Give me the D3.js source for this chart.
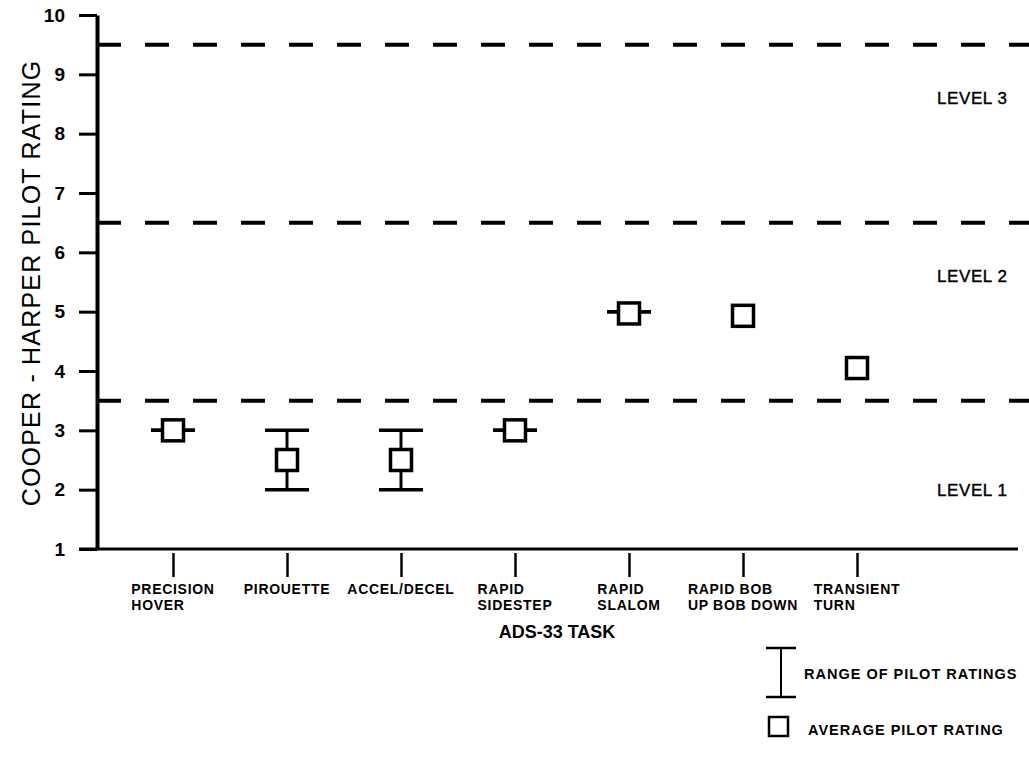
<!DOCTYPE html>
<html>
<head>
<meta charset="utf-8">
<script src="https://cdn.jsdelivr.net/npm/d3@7"></script>
<style>
	body { margin: 0; background: #fff; }
	text { font-family: "Liberation Sans", Arial, Helvetica, sans-serif; fill: #000; }
</style>
</head>
<body>
<div id="chart-area"></div>
<script>

/*****************************************/
/*   DATA                                */
/*****************************************/

let tasks = ["PRECISION HOVER", "PIROUETTE", "ACCEL/DECEL", "RAPID SIDESTEP", "RAPID SLALOM", "RAPID BOB UP BOB DOWN", "TRANSIENT TURN"];
let taskLines = [["PRECISION", "HOVER"], ["PIROUETTE"], ["ACCEL/DECEL"], ["RAPID", "SIDESTEP"], ["RAPID", "SLALOM"], ["RAPID BOB", "UP BOB DOWN"], ["TRANSIENT", "TURN"]];

// average rating and range (null = no range drawn)
let avgRating = [3.0, 2.5, 2.5, 3.0, 4.97, 4.93, 4.05];
let minRating = [3, 2, 2, 3, 5, null, null];
let maxRating = [3, 3, 3, 3, 5, null, null];

let yTicks = [1, 2, 3, 4, 5, 6, 7, 8, 9, 10];

// handling qualities level boundaries
let levelBounds = [3.5, 6.5, 9.5];
let levelNames = ["LEVEL 1", "LEVEL 2", "LEVEL 3"];
let levelLabelAt = [2.0, 5.6, 8.6];


// CHART AREA

let margin = {top: 15, right: 0, bottom: 216, left: 97},
	width = 1029 - margin.left - margin.right,
	height = 765 - margin.top - margin.bottom;

let root = d3.select("#chart-area").append("svg")
	.attr("width", 1029)
	.attr("height", 765);

root.append("rect")
	.attr("width", 1029)
	.attr("height", 765)
	.attr("fill", "#fff");

let svg = root.append("g")
	.attr("transform", "translate(" + margin.left + "," + margin.top + ")");


// SCALES

let xScale = d3.scalePoint()
	.domain(tasks)
	.range([76, 760]);

let yScale = d3.scaleLinear()
	.domain([1, 10])
	.range([height, 0]);


// LEVEL LINES

svg.selectAll(".level-line")
	.data(levelBounds)
	.enter()
	.append("line")
	.attr("class", "level-line")
	.attr("x1", 0)
	.attr("x2", width)
	.attr("y1", d => yScale(d))
	.attr("y2", d => yScale(d))
	.attr("stroke", "#000")
	.attr("stroke-width", 4)
	.attr("stroke-dasharray", "24,24");

svg.selectAll(".level-label")
	.data(levelNames)
	.enter()
	.append("text")
	.attr("class", "level-label")
	.attr("x", 840)
	.attr("y", (d, i) => yScale(levelLabelAt[i]))
	.attr("dy", "0.35em")
	.style("font-size", "17px")
	.style("letter-spacing", "0.6px")
	.style("stroke", "#000")
	.style("stroke-width", "0.4px")
	.text(d => d);


// AXES

let yAxis = d3.axisLeft(yScale)
	.tickValues(yTicks)
	.tickSize(18)
	.tickSizeOuter(0)
	.tickPadding(14)
	.tickFormat(d3.format("d"));

let yAxisGroup = svg.append("g")
	.attr("class", "y-axis axis")
	.call(yAxis);

yAxisGroup.select(".domain")
	.attr("stroke-width", 4);
yAxisGroup.selectAll(".tick line")
	.attr("stroke-width", 3);
yAxisGroup.selectAll(".tick text")
	.style("font-size", "19px")
	.style("font-weight", "bold")
	.style("font-family", "'Liberation Sans', Arial, sans-serif");

let xAxis = d3.axisBottom(xScale)
	.tickSize(24)
	.tickSizeOuter(0)
	.tickFormat("");

let xAxisGroup = svg.append("g")
	.attr("class", "x-axis axis")
	.attr("transform", "translate(0," + (height + 4) + ")")
	.call(xAxis);

xAxisGroup.select(".domain").remove();
xAxisGroup.selectAll(".tick line")
	.attr("stroke-width", 2.5);

svg.append("line")
	.attr("x1", -18)
	.attr("x2", width - 11)
	.attr("y1", height)
	.attr("y2", height)
	.attr("stroke", "#000")
	.attr("stroke-width", 3);

// task labels, lines left aligned, block centred on the tick
let labels = svg.selectAll(".task-label")
	.data(tasks)
	.enter()
	.append("text")
	.attr("class", "task-label")
	.attr("y", height + 45)
	.style("font-size", "14px")
	.style("font-weight", "bold")
	.style("letter-spacing", "0.7px");

labels.each(function(d, i) {
	let t = d3.select(this);
	taskLines[i].forEach(function(line, j) {
		t.append("tspan")
			.attr("x", 0)
			.attr("dy", j == 0 ? 0 : 16)
			.text(line);
	});
	let w = d3.max(t.selectAll("tspan").nodes(), n => n.getComputedTextLength());
	t.selectAll("tspan").attr("x", xScale(d) - w / 2);
});

svg.append("text")
	.attr("x", 460)
	.attr("y", height + 89)
	.attr("text-anchor", "middle")
	.style("font-size", "18px")
	.style("font-weight", "bold")
	.text("ADS-33 TASK");

root.append("text")
	.attr("transform", "translate(31," + (margin.top + 268) + ") rotate(-90)")
	.attr("text-anchor", "middle")
	.attr("dy", "0.35em")
	.style("font-size", "25px")
	.style("letter-spacing", "1.2px")
	.text("COOPER - HARPER PILOT RATING");


// ---- RANGE BARS ----

let ranged = tasks.filter((d, i) => minRating[i] != null);

let bars = svg.selectAll(".range")
	.data(ranged)
	.enter()
	.append("g")
	.attr("class", "range");

bars.append("line")
	.attr("x1", d => xScale(d))
	.attr("x2", d => xScale(d))
	.attr("y1", d => yScale(minRating[tasks.indexOf(d)]))
	.attr("y2", d => yScale(maxRating[tasks.indexOf(d)]))
	.attr("stroke", "#000")
	.attr("stroke-width", 3);

[minRating, maxRating].forEach(function(arr) {
	bars.append("line")
		.attr("x1", d => xScale(d) - 22)
		.attr("x2", d => xScale(d) + 22)
		.attr("y1", d => yScale(arr[tasks.indexOf(d)]))
		.attr("y2", d => yScale(arr[tasks.indexOf(d)]))
		.attr("stroke", "#000")
		.attr("stroke-width", 3.5);
});


// ---- AVERAGE SQUARES ----

let sq = 21;

svg.selectAll(".avg")
	.data(tasks)
	.enter()
	.append("rect")
	.attr("class", "avg")
	.attr("x", d => xScale(d) - sq / 2)
	.attr("y", (d, i) => yScale(avgRating[i]) - sq / 2)
	.attr("width", sq)
	.attr("height", sq)
	.attr("fill", "#fff")
	.attr("stroke", "#000")
	.attr("stroke-width", 3.5);


// ---- LEGEND ----

let legend = root.append("g")
	.attr("transform", "translate(781,648)");

legend.append("line")
	.attr("x1", 0).attr("x2", 0)
	.attr("y1", 0).attr("y2", 49)
	.attr("stroke", "#000").attr("stroke-width", 2);
legend.append("line")
	.attr("x1", -15).attr("x2", 15)
	.attr("y1", 0).attr("y2", 0)
	.attr("stroke", "#000").attr("stroke-width", 2.5);
legend.append("line")
	.attr("x1", -15).attr("x2", 15)
	.attr("y1", 49).attr("y2", 49)
	.attr("stroke", "#000").attr("stroke-width", 2.5);
legend.append("text")
	.attr("x", 23)
	.attr("y", 26)
	.attr("dy", "0.35em")
	.style("font-size", "14.5px")
	.style("font-weight", "bold")
	.style("letter-spacing", "1px")
	.text("RANGE OF PILOT RATINGS");

legend.append("rect")
	.attr("x", -12)
	.attr("y", 69)
	.attr("width", 19)
	.attr("height", 19)
	.attr("fill", "#fff")
	.attr("stroke", "#000")
	.attr("stroke-width", 2.5);
legend.append("text")
	.attr("x", 27)
	.attr("y", 82)
	.attr("dy", "0.35em")
	.style("font-size", "14.5px")
	.style("font-weight", "bold")
	.style("letter-spacing", "1px")
	.text("AVERAGE PILOT RATING");

</script>
</body>
</html>
